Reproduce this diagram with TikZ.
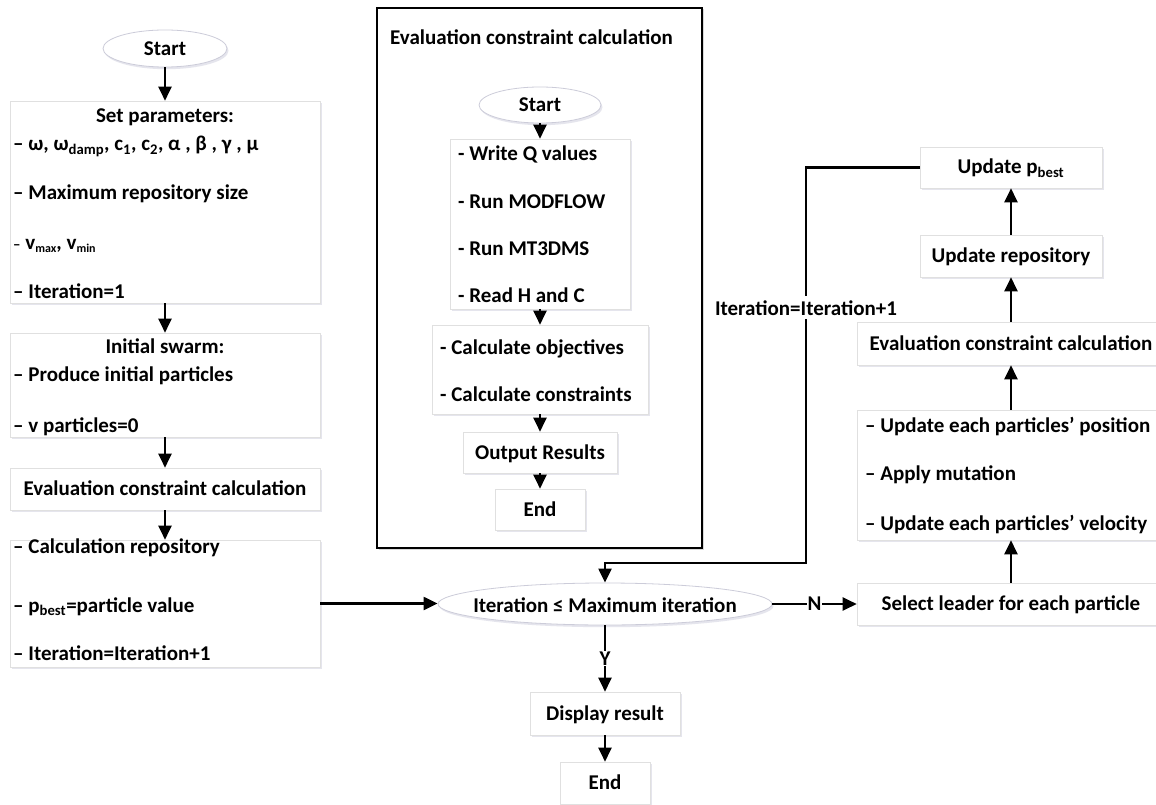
\documentclass[tikz,border=0pt]{standalone}
\usepackage{fontspec}
\setmainfont{Carlito}
\usetikzlibrary{shapes.geometric,arrows.meta,shadows}
\tikzset{
 x=1pt,y=-1pt,
 fnt/.style={font=\bfseries\fontsize{21}{25}\selectfont},
 shad/.style={drop shadow={shadow xshift=1.5pt, shadow yshift=-2.2pt, fill=blue!30!black!25, opacity=0.4}},
 box/.style={draw=black!12, line width=0.6pt, fill=white, inner sep=0, fnt, text height=14pt, text depth=1pt, shad},
 oval/.style={ellipse, draw=blue!25!black!20, line width=0.8pt, fill=white, inner sep=0, fnt, shad},
 txt/.style={fnt, inner sep=0, anchor=base west},
 ctxt/.style={fnt, inner sep=0, anchor=base},
 lbl/.style={fnt, fill=white, inner xsep=1pt, inner ysep=1pt},
 arr/.style={line width=2.2pt, -{Triangle[length=14pt,width=13pt]}},
 frm/.style={draw=black, line width=1.4pt, fill=white, inner sep=0, drop shadow={shadow xshift=1.5pt, shadow yshift=-1.5pt, fill=black!30, opacity=0.5}}
}
\newcommand{\smallsub}[1]{{\fontsize{12}{14}\selectfont\raisebox{-3pt}{#1}}}
\begin{document}
\begin{tikzpicture}
\fill[white] (0,0) rectangle (1156,805);
\useasboundingbox (0,0) rectangle (1156,805);

% ---------- left column ----------
\node[oval, minimum width=124pt, minimum height=37pt] (start) at (165,48.5) {Start};
\node[box, minimum width=310pt, minimum height=202pt] (sp) at (165,202) {};
\node[ctxt] (sp0) at (165,123) {Set parameters:};
\node[txt] (sp1) at (13,151) {– ω, ω\textsubscript{damp}, c\textsubscript{1}, c\textsubscript{2}, α , β , γ , μ};
\node[txt] (sp2) at (13,200) {– Maximum repository size};
\node[txt] (sp3) at (13,249) {{\fontsize{15}{18}\selectfont –} v\smallsub{max}, v\smallsub{min}};
\node[txt] (sp4) at (13,298) {– Iteration=1};

\node[box, minimum width=310pt, minimum height=104pt] (is) at (165,385) {};
\node[ctxt] (is0) at (165,353) {Initial swarm:};
\node[txt] (is1) at (13,381) {– Produce initial particles};
\node[txt] (is2) at (13,432) {– v particles=0};

\node[box, minimum width=310pt, minimum height=42pt] (ev) at (165,489) {Evaluation constraint calculation};

\node[box, minimum width=310pt, minimum height=127pt] (cr) at (165,603.5) {};
\node[txt] (cr1) at (13,553) {– Calculation repository};
\node[txt] (cr2) at (13,612) {– p\textsubscript{best}=particle value};
\node[txt] (cr3) at (13,660) {– Iteration=Iteration+1};

\draw[arr] (start.south) -- (sp.north);
\draw[arr] (sp.south) -- (is.north);
\draw[arr] (is.south) -- (ev.north);
\draw[arr] (ev.south) -- (cr.north);

% ---------- middle frame ----------
\node[frm, minimum width=325pt, minimum height=540pt] (frame) at (539.5,278) {};
\node[txt] (mtitle) at (390,45) {Evaluation constraint calculation};
\node[oval, minimum width=122pt, minimum height=36pt] (mstart) at (540,105) {Start};
\node[box, minimum width=180pt, minimum height=170pt] (m1) at (540,224) {};
\node[txt] (m11) at (458,161) {- Write Q values};
\node[txt] (m12) at (458,208) {- Run MODFLOW};
\node[txt] (m13) at (458,255) {- Run MT3DMS};
\node[txt] (m14) at (458,302) {- Read H and C};
\node[box, minimum width=216pt, minimum height=89pt] (m2) at (540,369.5) {};
\node[txt] (m21) at (440,354) {- Calculate objectives};
\node[txt] (m22) at (440,401) {- Calculate constraints};
\node[box, minimum width=154pt, minimum height=41pt] (mout) at (540,452.5) {Output Results};
\node[box, minimum width=90pt, minimum height=41pt] (mend) at (540,509.5) {End};

\draw[arr] (mstart.south) -- (m1.north);
\draw[arr] (m1.south) -- (m2.north);
\draw[arr] (m2.south) -- (mout.north);
\draw[arr] (mout.south) -- (mend.north);

% ---------- right column ----------
\node[box, minimum width=182pt, minimum height=41pt] (upb) at (1011,167.5) {Update p\textsubscript{best}};
\node[box, minimum width=182pt, minimum height=42pt] (urepo) at (1011,256) {Update repository};
\node[box, minimum width=308pt, minimum height=43pt] (rev) at (1011,343.5) {Evaluation constraint calculation};
\node[box, minimum width=308pt, minimum height=130pt] (upd) at (1011,475) {};
\node[txt] (upd1) at (865,432) {– Update each particles’ position};
\node[txt] (upd2) at (865,480) {– Apply mutation};
\node[txt] (upd3) at (865,530) {– Update each particles’ velocity};
\node[box, minimum width=308pt, minimum height=42pt] (sel) at (1011,604) {Select leader for each particle};

\draw[arr] (sel.north) -- (upd.south);
\draw[arr] (upd.north) -- (rev.south);
\draw[arr] (rev.north) -- (urepo.south);
\draw[arr] (urepo.north) -- (upb.south);

% ---------- bottom ----------
\node[oval, minimum width=334pt, minimum height=42pt] (dec) at (605,604) {};
\node[ctxt] (dect) at (605,612) {Iteration ≤ Maximum iteration};
\node[box, minimum width=150pt, minimum height=43pt] (disp) at (605,713.5) {Display result};
\node[box, minimum width=90pt, minimum height=42pt] (fin) at (605,783) {End};

\coordinate (lc) at (806,563);
\draw[arr] (upb.west) -| (lc) -| (dec.north);
\node[ctxt, fill=white, inner xsep=0pt, inner ysep=4pt] (itl) at (806,315) {Iteration=Iteration+1};

\draw[arr] (cr.east) -- (cr.east -| dec.west);
\draw[arr] (dec.east) -- node[lbl] (nlab) {N} (sel.west);
\draw[arr] (dec.south) -- node[lbl] (ylab) {Y} (disp.north);
\draw[arr] (disp.south) -- (fin.north);
\end{tikzpicture}
\end{document}
